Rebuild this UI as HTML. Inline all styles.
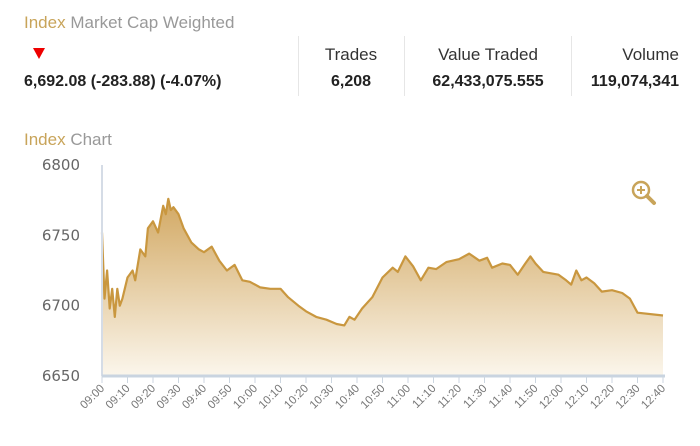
<!DOCTYPE html>
<html><head><meta charset="utf-8"><style>
body{margin:0;width:700px;height:446px;background:#fff;font-family:"Liberation Sans",sans-serif;position:relative;overflow:hidden}
.a{position:absolute;white-space:nowrap}
.gold{color:#c8a45a}.gray{color:#999}
.hd{font-size:17px;color:#333}
.val{font-size:16px;font-weight:bold;color:#222}
.div{position:absolute;top:36px;height:60px;width:1px;background:#e6e6e6}
</style></head><body>
<div class="a" style="left:24px;top:13px;font-size:17px"><span class="gold">Index</span> <span class="gray">Market Cap Weighted</span></div>
<div class="a" style="left:33px;top:48px;width:0;height:0;border-left:6px solid transparent;border-right:6px solid transparent;border-top:11px solid #e00"></div>
<div class="a val" style="left:24px;top:73px">6,692.08 (-283.88) (-4.07%)</div>
<div class="div" style="left:298px"></div><div class="div" style="left:404px"></div><div class="div" style="left:571px"></div>
<div class="a hd" style="left:304px;width:94px;text-align:center;top:45px">Trades</div>
<div class="a val" style="left:304px;width:94px;text-align:center;top:73px">6,208</div>
<div class="a hd" style="left:410px;width:156px;text-align:center;top:45px">Value Traded</div>
<div class="a val" style="left:410px;width:156px;text-align:center;top:73px">62,433,075.555</div>
<div class="a hd" style="right:21px;top:45px">Volume</div>
<div class="a val" style="right:21px;top:73px">119,074,341</div>
<div class="a" style="left:24px;top:130px;font-size:17px"><span class="gold">Index</span> <span class="gray">Chart</span></div>
<svg id="c" class="a" style="left:0;top:0" width="700" height="446">
<defs><linearGradient id="g" x1="0" y1="0" x2="0" y2="1"><stop offset="0" stop-color="#d2a862"/><stop offset="1" stop-color="#fbf6ec"/></linearGradient></defs>
<g transform="translate(641,190)"><circle r="8" fill="none" stroke="#c8a45a" stroke-width="2.5"/><path d="M-4 0H4M0 -4V4" stroke="#c8a45a" stroke-width="2"/><path d="M6 6L13 13" stroke="#c8a45a" stroke-width="4" stroke-linecap="round"/></g>
</svg>
<script>
const times=[0,1,2,3,4,5,6,7,8,10,12,13,15,17,18,20,22,24,25,26,27,28,30,32,35,38,40,43,46,49,52,55,58,62,66,70,73,77,80,84,88,92,95,97,99,102,106,110,114,116,119,122,125,128,131,135,140,144,148,151,153,157,160,163,166,168,170,173,176,179,182,184,186,188,190,193,196,200,204,207,210,220];
const values=[6752,6705,6725,6698,6712,6692,6712,6700,6705,6720,6725,6718,6740,6735,6755,6760,6752,6771,6765,6776,6768,6770,6765,6755,6745,6740,6738,6742,6732,6725,6729,6718,6717,6713,6712,6712,6706,6700,6696,6692,6690,6687,6686,6692,6690,6698,6706,6720,6727,6724,6735,6728,6718,6727,6726,6731,6733,6737,6732,6734,6727,6730,6729,6722,6730,6735,6730,6724,6723,6722,6718,6715,6725,6718,6720,6716,6710,6711,6709,6705,6695,6693];
const yTicks=[6650,6700,6750,6800];
const xTicks=["09:00","09:10","09:20","09:30","09:40","09:50","10:00","10:10","10:20","10:30","10:40","10:50","11:00","11:10","11:20","11:30","11:40","11:50","12:00","12:10","12:20","12:30","12:40"];
const X0=102,X1=663,Y0=376,Y1=165,T=220,V0=6650,V1=6800;
const xs=t=>X0+t/T*(X1-X0), ys=v=>Y0-(v-V0)/(V1-V0)*(Y0-Y1);
const svg=document.getElementById('c'),NS='http://www.w3.org/2000/svg';
function mk(tag,at){const e=document.createElementNS(NS,tag);for(const k in at)e.setAttribute(k,at[k]);svg.appendChild(e);return e;}
let d=times.map((t,i)=>(i?'L':'M')+xs(t).toFixed(1)+' '+ys(values[i]).toFixed(1)).join('');
const area=mk('path',{d:d+`L${xs(times[times.length-1])} ${Y0}L${xs(0)} ${Y0}Z`,fill:'url(#g)'});


const line=mk('path',{d:d,fill:'none',stroke:'#c9973f','stroke-width':2.2,'stroke-linejoin':'round'});


const ya=mk('line',{x1:X0,y1:Y1,x2:X0,y2:Y0,stroke:'#d5dce6','stroke-width':2});


const xa=mk('line',{x1:X0,y1:Y0,x2:X1+2,y2:Y0,stroke:'#c9d4e0','stroke-width':3});


yTicks.forEach(v=>{const t=mk('text',{x:80,y:ys(v)+5,'text-anchor':'end','font-size':15,fill:'#666','font-family':'DejaVu Sans'});t.textContent=v;

});
xTicks.forEach((s,i)=>{const x=xs(i*10);mk('line',{x1:x,y1:Y0,x2:x,y2:Y0+7,stroke:'#ccd6e0','stroke-width':1});
const t=mk('text',{x:x+3,y:Y0+13,'text-anchor':'end','font-size':11.5,fill:'#777','font-family':'Liberation Sans',transform:`rotate(-45 ${x+3} ${Y0+13})`});t.textContent=s;

});
</script>
</body></html>
